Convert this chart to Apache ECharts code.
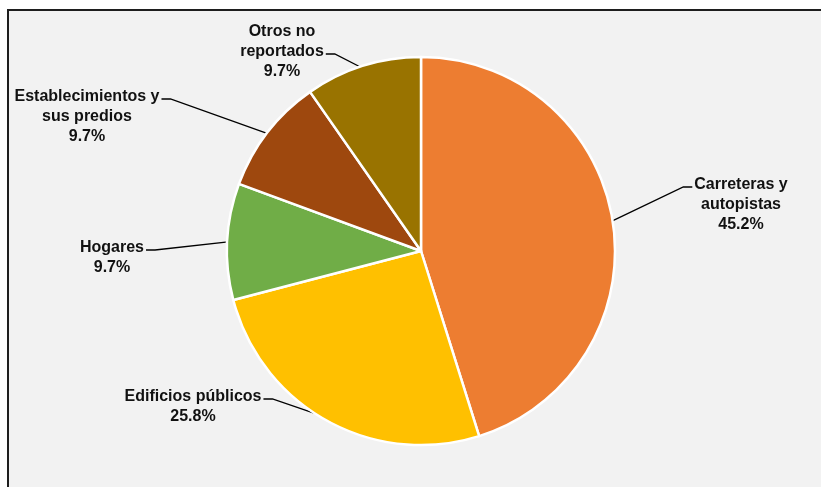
<!DOCTYPE html>
<html>
<head>
<meta charset="utf-8">
<script src="https://cdn.jsdelivr.net/npm/echarts@6/dist/echarts.min.js"></script>
<style>
  html, body { margin: 0; padding: 0; background: #ffffff; }
  #frame { position: absolute; left: 7px; top: 9px; width: 830px; height: 500px;
           background: #f2f2f2; border-left: 2px solid #1e1e1e; border-top: 2px solid #1e1e1e; }
  #chart { position: absolute; left: 0; top: 0; width: 821px; height: 487px; }
</style>
</head>
<body>
<div id="frame"></div>
<div id="chart"></div>
<script>
// Data
const categories = ['Carreteras y\nautopistas', 'Edificios públicos', 'Hogares', 'Establecimientos y\nsus predios', 'Otros no\nreportados'];
const values = [45.2, 25.8, 9.7, 9.7, 9.7];
const colors = ['#ED7D31', '#FFC000', '#70AD47', '#9E480E', '#997300'];

// Layout (label block centres, attach line index)
const CX = 421, CY = 251, LINE_H = 20;
const labelPos = [
  { x: 741, y: 205, line: 0 },
  { x: 193, y: 407, line: 0 },
  { x: 112, y: 258, line: 0 },
  { x: 87,  y: 117, line: 0 },
  { x: 282, y: 52,  line: 1 }
];

const chart = echarts.init(document.getElementById('chart'), null, { renderer: 'canvas' });
const option = {
  backgroundColor: 'transparent',
  animation: false,
  series: [{
    type: 'pie',
    center: [CX, CY],
    radius: [0, 194],
    startAngle: 90,
    clockwise: true,
    avoidLabelOverlap: false,
    itemStyle: { borderColor: '#ffffff', borderWidth: 2.5 },
    label: {
      show: true,
      position: 'outside',
      formatter: function (p) { return p.name + '\n' + p.value.toFixed(1) + '%'; },
      fontFamily: 'Liberation Sans, Arial, sans-serif',
      fontWeight: 'bold',
      fontSize: 16,
      lineHeight: LINE_H,
      color: '#111111',
      align: 'center'
    },
    labelLine: { show: true, length: 20, length2: 10, lineStyle: { color: '#000000', width: 1.3 } },
    labelLayout: function (params) {
      const pos = labelPos[params.dataIndex];
      const w = params.labelRect.width, h = params.labelRect.height;
      const left = pos.x - w / 2, right = pos.x + w / 2, top = pos.y - h / 2;
      const onRight = pos.x > CX;
      const side = onRight ? left - 2 : right + 2;
      const dir = onRight ? -1 : 1;
      const attachY = top + LINE_H * (pos.line + 0.5) + 2;
      const res = { x: pos.x, y: pos.y, align: 'center', verticalAlign: 'middle' };
      if (params.labelLinePoints) {
        const s = params.labelLinePoints[0];
        const dx = s[0] - CX, dy = s[1] - CY;
        const d = Math.sqrt(dx * dx + dy * dy) || 1;
        const start = [s[0] - dx / d * 3, s[1] - dy / d * 3];
        res.labelLinePoints = [start, [side + dir * 9, attachY], [side, attachY]];
      }
      return res;
    },
    data: categories.map(function (c, i) {
      return { name: c, value: values[i], itemStyle: { color: colors[i] } };
    })
  }]
};
chart.setOption(option);
</script>
</body>
</html>
